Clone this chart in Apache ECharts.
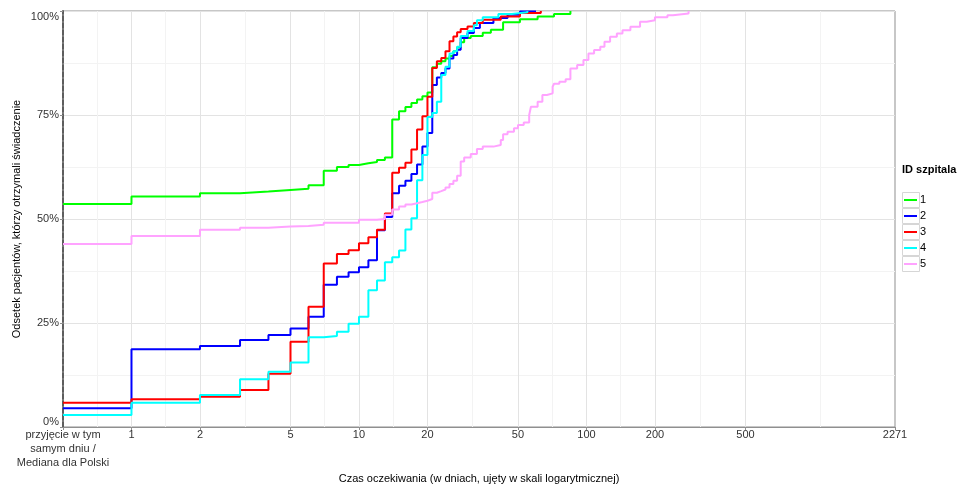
<!DOCTYPE html>
<html>
<head>
<meta charset="utf-8">
<script src="https://cdn.jsdelivr.net/npm/echarts@6/dist/echarts.min.js"></script>
<style>
  html, body { margin: 0; padding: 0; background: #fff; }
  #chart { width: 959px; height: 486px; }
</style>
</head>
<body>
<div id="chart"></div>
<script>
// czas oczekiwania w dniach (0 = przyjęcie w tym samym dniu) i odsetek pacjentów (%)
const days1 = [0,1,2,3,4,5,6,7,8,9,10,11,12,13,14,15,16,17,18,19,20,21,22,23,24,25,26,27,28,29,31,35,38,43,51,61,72,85];
const pct1 = [53.6,55.4,56.2,56.6,57.0,57.3,58.1,61.6,62.5,63.0,63.4,63.7,64.2,64.8,73.9,75.9,76.9,77.9,78.7,79.5,80.4,86.5,87.3,87.9,88.6,89.2,90.3,91.3,92.5,93.5,94.0,94.8,95.5,97.3,98.0,98.7,99.3,100];

const days2 = [0,1,2,3,4,5,6,7,8,9,10,11,12,13,14,15,16,17,18,19,20,21,22,23,24,25,26,27,28,30,32,34,39,45,51,60];
const pct2 = [4.5,18.7,19.5,20.9,22.1,23.7,26.5,34.2,36.1,37.2,38.4,40.1,47.3,50.5,56.2,58.0,59.2,60.8,63.1,67.4,70.7,82.2,84.0,85.1,86.2,88.6,89.4,90.7,93.5,94.7,95.9,97.1,98.3,99.1,99.9,100];

const days3 = [0,1,2,3,4,5,6,7,8,9,10,11,12,13,14,15,16,17,18,19,20,21,22,23,24,25,26,27,28,30,32,35,42,51,63];
const pct3 = [5.8,6.7,7.3,8.9,12.8,20.5,28.9,39.3,41.6,42.5,44.2,45.6,47.4,51.3,61.1,62.3,63.5,66.7,71.5,74.7,79.4,86.3,87.9,88.7,90.3,92.7,93.9,94.9,95.7,96.3,97.1,97.9,98.7,99.5,100];

const days4 = [0,1,2,3,4,5,6,7,8,9,10,11,12,13,14,15,16,17,18,19,20,21,22,23,24,25,26,27,28,30,32,33,35,41,47,55];
const pct4 = [2.9,5.8,7.7,11.5,13.3,15.5,21.6,21.9,22.9,24.8,26.5,32.9,35.2,39.6,40.8,42.4,47.5,50.2,59.3,65.4,74.5,75.5,78.2,84.6,86.6,89.8,90.3,91.4,94.0,95.2,96.6,97.8,98.5,99.3,99.7,100];

const days5 = [0,1,2,3,4,5,6,7,10,12,13,14,15,16,17,18,19,20,21,22,23,24,25,26,27,28,29,31,33,35,39,42,43,45,48,50,53,56,57,61,64,67,71,72,76,81,85,91,97,102,108,115,120,127,136,144,156,172,184,200,227,240,281];
const pct5 = [44.0,45.9,47.4,47.9,48.2,48.3,48.6,49.1,49.8,50.0,51.0,52.3,53.0,53.5,53.8,54.1,54.4,54.8,56.3,56.7,57.1,57.6,58.4,59.2,60.4,63.8,64.8,65.6,66.8,67.4,67.8,69.0,70.4,71.0,71.8,72.6,73.2,75.0,77.0,78.2,79.8,80.2,81.8,82.5,83.0,83.6,86.2,87.0,88.2,89.8,90.6,91.4,92.6,93.8,94.6,95.4,96.2,97.4,97.8,98.5,99.0,99.4,100];

const hospitals = ['1', '2', '3', '4', '5'];
const colors = ['#00ff00', '#0000ff', '#ff0000', '#00ffff', '#ffa3ff'];

// oś x: 0 dni rysujemy na początku osi logarytmicznej
const X_MIN = 0.5;
const X_MAX = 2271;
const xTicks = [X_MIN, 1, 2, 5, 10, 20, 50, 100, 200, 500, X_MAX];
const xGrid = [1, 2, 5, 10, 20, 50, 100, 200, 500];
const xMinorGrid = [0.707, 1.414, 3.162, 7.071, 14.14, 31.62, 70.71, 141.4, 316.2, 1065];
const sameDayLabel = 'przyjęcie w tym\nsamym dniu /\nMediana dla Polski';

const FONT = 'Liberation Sans, Arial, Helvetica, sans-serif';
const allDays = [days1, days2, days3, days4, days5];
const allPct = [pct1, pct2, pct3, pct4, pct5];

const series = hospitals.map((name, i) => ({
    name: name,
    type: 'line',
    step: 'end',
    symbol: 'none',
    showSymbol: false,
    clip: false,
    z: 3 + i,
    color: colors[i],
    lineStyle: { width: 2, color: colors[i] },
    data: allDays[i].map((d, j) => [d === 0 ? X_MIN : d, allPct[i][j]])
}));

const chart = echarts.init(document.getElementById('chart'), null, { renderer: 'canvas' });

chart.setOption({
    animation: false,
    backgroundColor: '#ffffff',
    textStyle: { fontFamily: FONT },
    title: {
        text: 'ID szpitala',
        left: 902,
        top: 164,
        padding: 0,
        textStyle: { fontFamily: FONT, fontSize: 11, fontWeight: 'bold', color: '#000' }
    },
    legend: [
        {
            // ramki kluczy legendy
            data: hospitals,
            orient: 'vertical',
            left: 902,
            top: 192,
            padding: 0,
            itemGap: 0,
            itemWidth: 17,
            itemHeight: 15,
            icon: 'rect',
            selectedMode: false,
            itemStyle: { color: '#ffffff', borderColor: '#d6d6d6', borderWidth: 1 },
            textStyle: { color: 'rgba(0,0,0,0)', fontSize: 10, lineHeight: 15 }
        },
        {
            data: hospitals,
            orient: 'vertical',
            left: 904,
            top: 192,
            padding: 0,
            itemGap: 0,
            itemWidth: 13,
            itemHeight: 16,
            icon: 'path://M0,0H13V2H0Z',
            selectedMode: false,
            textStyle: { fontFamily: FONT, fontSize: 11, lineHeight: 16, color: '#000', padding: [0, 0, 0, -2] }
        }
    ],
    grid: {
        left: 63,
        right: 64,
        top: 11,
        bottom: 59,
        show: true,
        borderColor: '#8f8f8f',
        borderWidth: 1,
        containLabel: false,
        outerBoundsMode: 'none'
    },
    xAxis: [
        {
            type: 'log',
            logBase: 10,
            min: X_MIN,
            max: X_MAX,
            name: 'Czas oczekiwania (w dniach, ujęty w skali logarytmicznej)',
            nameLocation: 'middle',
            nameGap: 46,
            nameMoveOverlap: false,
            nameTextStyle: { fontFamily: FONT, fontSize: 11, color: '#000' },
            axisLine: { show: true, lineStyle: { color: '#8f8f8f', width: 1 } },
            axisTick: { show: true, length: 3, customValues: xTicks, lineStyle: { color: '#8f8f8f' } },
            axisLabel: {
                customValues: xTicks,
                margin: 1,
                fontFamily: FONT,
                fontSize: 11,
                color: '#333',
                lineHeight: 14,
                formatter: v => (v <= X_MIN + 1e-9 ? sameDayLabel : String(Math.round(v)))
            },
            splitLine: { show: false },
            minorSplitLine: { show: false }
        },
        {
            // linie siatki (główne)
            type: 'log',
            logBase: 10,
            min: X_MIN,
            max: X_MAX,
            position: 'bottom',
            axisLine: { show: false },
            axisLabel: { show: false },
            axisTick: { show: false, customValues: xGrid },
            splitLine: { show: true, lineStyle: { color: '#e3e3e3', width: 1 } }
        },
        {
            // linie siatki (pomocnicze)
            type: 'log',
            logBase: 10,
            min: X_MIN,
            max: X_MAX,
            position: 'bottom',
            axisLine: { show: false },
            axisLabel: { show: false },
            axisTick: { show: false, customValues: xMinorGrid },
            splitLine: { show: true, lineStyle: { color: '#f3f3f3', width: 1 } }
        }
    ],
    yAxis: {
        type: 'value',
        min: 0,
        max: 100,
        interval: 25,
        name: 'Odsetek pacjentów, którzy otrzymali świadczenie',
        nameLocation: 'middle',
        nameGap: 41,
        nameMoveOverlap: false,
        nameTextStyle: { fontFamily: FONT, fontSize: 11, color: '#000' },
        axisLine: { show: true, onZero: false, lineStyle: { color: '#5e5e5e', width: 2, type: [5, 2] } },
        axisTick: { show: true, length: 3, lineStyle: { color: '#8f8f8f' } },
        axisLabel: {
            margin: 4,
            fontFamily: FONT,
            fontSize: 11,
            color: '#333',
            formatter: '{value}%',
            verticalAlignMinLabel: 'bottom',
            verticalAlignMaxLabel: 'top'
        },
        splitLine: { show: true, lineStyle: { color: '#e3e3e3', width: 1 } },
        minorTick: { show: false, splitNumber: 2 },
        minorSplitLine: { show: true, lineStyle: { color: '#f3f3f3', width: 1 } }
    },
    series: series
});
</script>
</body>
</html>
